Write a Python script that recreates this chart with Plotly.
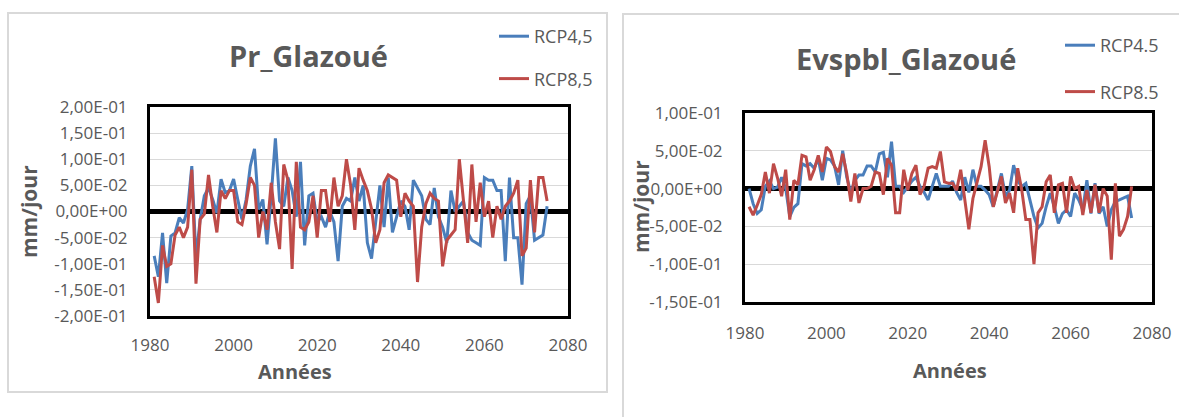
import plotly.graph_objects as go

years = list(range(1981, 2076))

pr_rcp45 = [-0.085, -0.125, -0.041, -0.137, -0.047, -0.041, -0.012, -0.022, 0.004, 0.087,
            -0.09, -0.015, 0.03, 0.045, 0.023, -0.003, 0.062, 0.036, 0.04, 0.062,
            0.023, -0.015, 0.023, 0.087, 0.12, 0.004, 0.023, -0.063, 0.03, 0.14,
            0.02, 0.01, 0.065, 0.04, -0.01, 0.095, -0.065, 0.03, 0.035, -0.02,
            -0.01, -0.03, 0.0, -0.02, -0.095, 0.01, 0.025, 0.02, 0.065, 0.02,
            0.05, -0.06, -0.09, -0.02, 0.05, -0.03, 0.065, -0.04, -0.01, 0.02,
            0.01, -0.035, 0.06, 0.045, 0.03, -0.015, -0.025, 0.045, -0.01, -0.03,
            -0.06, 0.04, 0.0, 0.01, 0.02, -0.04, -0.055, -0.06, -0.065, 0.065,
            0.06, 0.06, 0.04, 0.04, -0.095, 0.065, -0.05, -0.05, -0.14, 0.015,
            0.03, -0.055, -0.05, -0.045, 0.01]

pr_rcp85 = [-0.125, -0.175, -0.065, -0.105, -0.1, -0.045, -0.03, -0.05, -0.03, 0.08,
            -0.138, -0.015, -0.005, 0.07, 0.01, -0.04, 0.04, 0.025, 0.04, 0.04,
            -0.02, -0.025, 0.015, 0.065, 0.05, -0.05, 0.0, -0.035, 0.055, -0.02,
            -0.072, 0.09, 0.06, -0.11, 0.095, -0.03, -0.035, -0.02, 0.03, -0.05,
            0.04, 0.04, -0.02, 0.065, 0.01, 0.03, 0.1, 0.05, -0.035, 0.083,
            0.06, 0.04, 0.005, -0.06, -0.035, 0.055, 0.07, 0.065, 0.06, -0.01,
            0.035, 0.02, 0.01, -0.135, -0.03, 0.015, 0.035, 0.025, 0.02, -0.105,
            -0.055, -0.045, -0.035, 0.1, 0.02, -0.06, 0.09, -0.02, 0.055, -0.01,
            0.02, -0.05, 0.01, -0.015, 0.01, 0.02, 0.035, 0.06, -0.085, -0.07,
            0.06, -0.04, 0.065, 0.065, 0.02]

ev_rcp45 = [0.0, -0.02, -0.033, -0.028, 0.003, 0.01, 0.0, 0.002, 0.015, 0.0,
            -0.037, -0.025, -0.02, 0.033, 0.03, 0.033, 0.027, 0.04, 0.011, 0.04,
            0.038, 0.03, 0.005, 0.05, 0.015, -0.005, 0.011, 0.018, 0.018, 0.03,
            0.03, 0.022, 0.046, 0.048, 0.015, 0.062, 0.003, 0.003, -0.005, 0.003,
            0.01, 0.015, 0.003, -0.005, -0.015, 0.003, 0.02, 0.003, 0.003, 0.003,
            0.01, -0.005, -0.015, 0.015, -0.005, 0.025, 0.003, 0.003, -0.002, -0.008,
            -0.024, 0.0, 0.02, -0.01, -0.002, 0.031, 0.01, 0.003, 0.007, -0.015,
            -0.037, -0.052, -0.046, -0.024, -0.006, -0.024, -0.046, -0.033, -0.028, -0.037,
            -0.006, -0.015, -0.028, 0.011, -0.033, 0.007, -0.033, -0.024, -0.05, -0.028,
            -0.017, -0.015, -0.013, -0.01, -0.039]

ev_rcp85 = [-0.024, -0.035, -0.022, -0.008, 0.022, -0.006, 0.033, 0.014, -0.01, 0.025,
            -0.041, 0.011, 0.005, 0.044, 0.042, 0.011, 0.025, 0.044, 0.022, 0.055,
            0.049, 0.029, 0.022, 0.046, 0.02, -0.017, 0.02, -0.019, 0.0, 0.0,
            0.003, 0.022, 0.02, -0.008, 0.04, 0.031, -0.032, -0.032, 0.025, -0.002,
            0.02, 0.031, -0.008, 0.003, 0.027, 0.029, 0.027, 0.049, 0.009, 0.007,
            0.007, -0.002, 0.025, -0.015, -0.054, -0.013, 0.009, 0.029, 0.064, 0.029,
            -0.024, -0.002, 0.016, -0.019, -0.006, -0.032, 0.027, -0.002, -0.041, -0.041,
            -0.1, -0.032, -0.024, 0.009, 0.018, -0.032, 0.005, 0.007, -0.032, 0.016,
            0.0, 0.003, -0.035, -0.002, -0.032, 0.005, -0.032, 0.0, -0.01, -0.094,
            0.007, -0.063, -0.054, -0.037, 0.003]

x_ticks = [1980, 2000, 2020, 2040, 2060, 2080]
pr_yticks = [0.2, 0.15, 0.1, 0.05, 0.0, -0.05, -0.1, -0.15, -0.2]
pr_yticktext = ["2,00E-01", "1,50E-01", "1,00E-01", "5,00E-02", "0,00E+00",
                "-5,00E-02", "-1,00E-01", "-1,50E-01", "-2,00E-01"]
ev_yticks = [0.1, 0.05, 0.0, -0.05, -0.1, -0.15]
ev_yticktext = ["1,00E-01", "5,00E-02", "0,00E+00", "-5,00E-02", "-1,00E-01", "-1,50E-01"]

BLUE = "#4a7ebb"
RED = "#be4b48"
GRAY = "#595959"
W, H = 1179, 417
FONT = "Open Sans"

fig = go.Figure()
fig.add_trace(go.Scatter(x=years, y=pr_rcp45, mode="lines", name="RCP4,5",
                         line=dict(color=BLUE, width=3), xaxis="x", yaxis="y",
                         legend="legend", legendgroup="a"))
fig.add_trace(go.Scatter(x=years, y=pr_rcp85, mode="lines", name="RCP8,5",
                         line=dict(color=RED, width=3), xaxis="x", yaxis="y",
                         legend="legend", legendgroup="b"))
fig.add_trace(go.Scatter(x=years, y=ev_rcp45, mode="lines", name="RCP4.5",
                         line=dict(color=BLUE, width=3), xaxis="x2", yaxis="y2",
                         legend="legend2", legendgroup="c"))
fig.add_trace(go.Scatter(x=years, y=ev_rcp85, mode="lines", name="RCP8.5",
                         line=dict(color=RED, width=3), xaxis="x2", yaxis="y2",
                         legend="legend2", legendgroup="d"))

def px(x):
    return x / W

def py(y):
    return 1 - y / H

common_x = dict(range=[1980, 2080], tickvals=x_ticks, showgrid=False,
                showline=True, mirror=True, linecolor="black", linewidth=3,
                zeroline=False, ticks="outside", ticklen=12, tickcolor="rgba(0,0,0,0)",
                tickfont=dict(family=FONT, size=17, color=GRAY), automargin=False)
common_y = dict(showgrid=True, gridcolor="#d9d9d9", gridwidth=1,
                showline=True, mirror=True, linecolor="black", linewidth=3,
                zeroline=True, zerolinecolor="black", zerolinewidth=5,
                ticks="outside", ticklen=16, tickcolor="rgba(0,0,0,0)",
                tickfont=dict(family=FONT, size=17, color=GRAY), automargin=False)

def title_ann(text, x, y, size, angle=0):
    return dict(text=text, x=px(x), y=py(y), xref="paper", yref="paper",
                xanchor="center", yanchor="middle", textangle=angle,
                showarrow=False, font=dict(family=FONT, size=size, color=GRAY))

fig.update_layout(
    width=W, height=H, margin=dict(l=0, r=0, t=0, b=0, autoexpand=False),
    paper_bgcolor="white", plot_bgcolor="white",
    xaxis=dict(common_x, domain=[px(150), px(568)], anchor="y"),
    yaxis=dict(common_y, domain=[py(316), py(107)], anchor="x", range=[-0.2, 0.2],
               tickvals=pr_yticks, ticktext=pr_yticktext),
    xaxis2=dict(common_x, domain=[px(745), px(1152)], anchor="y2", ticklen=14),
    yaxis2=dict(common_y, domain=[py(302), py(113)], anchor="x2", range=[-0.15, 0.1],
                tickvals=ev_yticks, ticktext=ev_yticktext),
    legend=dict(x=px(494), y=py(18), xanchor="left", yanchor="top",
                font=dict(family=FONT, size=18, color=GRAY), bgcolor="rgba(0,0,0,0)",
                tracegroupgap=16, traceorder="grouped"),
    legend2=dict(x=px(1060), y=py(27), xanchor="left", yanchor="top",
                 font=dict(family=FONT, size=18, color=GRAY), bgcolor="rgba(0,0,0,0)",
                 tracegroupgap=20, traceorder="grouped"),
    annotations=[
        title_ann("<b>Pr_Glazoué</b>", 308, 55, 29),
        title_ann("<b>Evspbl_Glazoué</b>", 906, 58, 29),
        title_ann("<b>mm/jour</b>", 29, 212, 21, -90),
        title_ann("<b>mm/jour</b>", 641, 207, 21, -90),
        title_ann("<b>Années</b>", 295, 371, 20),
        title_ann("<b>Années</b>", 950, 370, 20),
    ],
    shapes=[
        dict(type="rect", xref="paper", yref="paper", x0=px(8), x1=px(607), y0=py(392), y1=py(13),
             line=dict(color="#d9d9d9", width=2)),
        dict(type="rect", xref="paper", yref="paper", x0=px(623), x1=px(1190), y0=py(430), y1=py(14),
             line=dict(color="#d9d9d9", width=2)),
    ],
)

fig.write_html("out.html", config={"displayModeBar": False},
               post_script="document.body.style.margin='0';")
